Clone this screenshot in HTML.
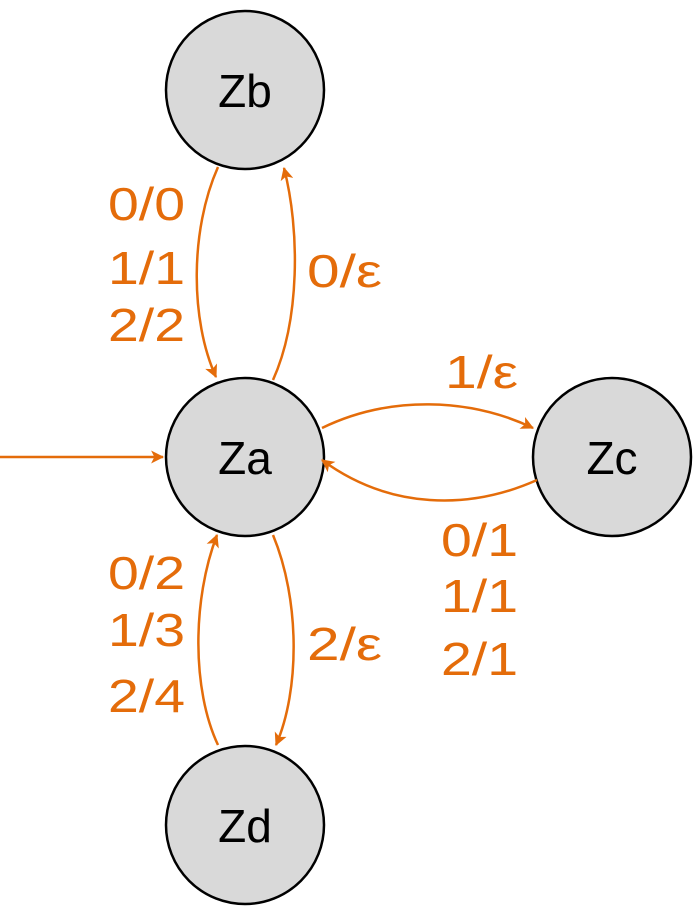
<!DOCTYPE html>
<html><head><style>body{margin:0;background:#fff}svg{display:block}</style></head><body>
<svg width="697" height="910" viewBox="0 0 697 910" xmlns="http://www.w3.org/2000/svg">
<defs>
<marker id="a" viewBox="0 0 12 12" refX="11" refY="6" markerWidth="13" markerHeight="13" markerUnits="userSpaceOnUse" orient="auto">
<path d="M0,0 L12,6 L0,12 L3,6 Z" fill="#E46C0A"/>
</marker>
</defs>
<g fill="#d9d9d9" stroke="#000" stroke-width="2.5">
<circle cx="245" cy="90" r="79"/>
<circle cx="245" cy="457" r="79"/>
<circle cx="612" cy="457" r="79"/>
<circle cx="245" cy="825" r="79"/>
</g>
<g fill="none" stroke="#E46C0A" stroke-width="2.5" marker-end="url(#a)">
<path d="M0,457 L163,457"/>
<path d="M218,167 C190,230 190,320 216,377"/>
<path d="M273,380 C300,320 300,230 284,168"/>
<path d="M322,428 C390,395 470,398 533,428"/>
<path d="M537,480 C470,510 390,510 322,460"/>
<path d="M273,535 C300,600 300,690 276,745"/>
<path d="M218,745 C192,690 192,600 217,535"/>
</g>
<g font-family="Liberation Sans, sans-serif" font-size="46" text-anchor="middle" fill="#000">
<text x="245" y="107">Zb</text>
<text x="245" y="474">Za</text>
<text x="612" y="474">Zc</text>
<text x="245" y="842">Zd</text>
</g>
<g font-family="Liberation Sans, sans-serif" font-size="46" fill="#E46C0A" lengthAdjust="spacingAndGlyphs">
<text x="108" y="220" textLength="77" lengthAdjust="spacingAndGlyphs">0/0</text>
<text x="108" y="284" textLength="77" lengthAdjust="spacingAndGlyphs">1/1</text>
<text x="108" y="341" textLength="77" lengthAdjust="spacingAndGlyphs">2/2</text>
<text x="307" y="287" textLength="75" lengthAdjust="spacingAndGlyphs">0/ε</text>
<text x="445" y="388" textLength="73" lengthAdjust="spacingAndGlyphs">1/ε</text>
<text x="441" y="556" textLength="77" lengthAdjust="spacingAndGlyphs">0/1</text>
<text x="441" y="612" textLength="77" lengthAdjust="spacingAndGlyphs">1/1</text>
<text x="441" y="675" textLength="77" lengthAdjust="spacingAndGlyphs">2/1</text>
<text x="108" y="589" textLength="77" lengthAdjust="spacingAndGlyphs">0/2</text>
<text x="108" y="646" textLength="77" lengthAdjust="spacingAndGlyphs">1/3</text>
<text x="108" y="712" textLength="77" lengthAdjust="spacingAndGlyphs">2/4</text>
<text x="307" y="660" textLength="75" lengthAdjust="spacingAndGlyphs">2/ε</text>
</g>
</svg>
</body></html>
